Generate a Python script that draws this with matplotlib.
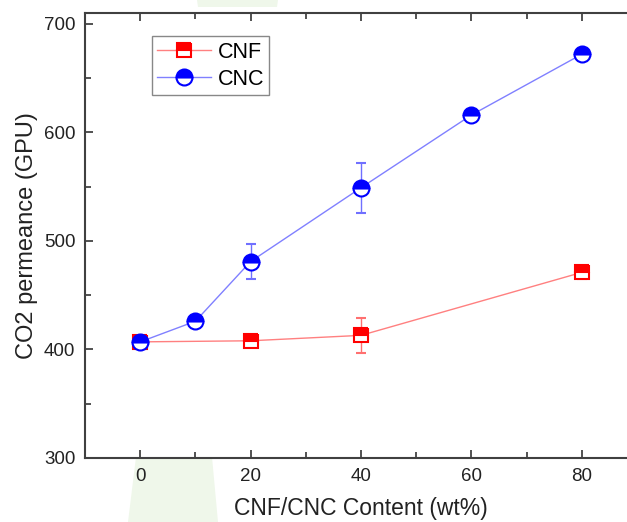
import matplotlib
matplotlib.use("Agg")
import matplotlib.pyplot as plt
from matplotlib.lines import Line2D
from matplotlib.patches import Polygon
from matplotlib.ticker import MultipleLocator

plt.rcParams["font.family"] = ["Liberation Sans", "DejaVu Sans"]

# data
cnf_x = [0, 20, 40, 80]
cnf_y = [407, 408, 413, 471]
cnf_err = [3, 3, 16, 6]

cnc_x = [0, 10, 20, 40, 60, 80]
cnc_y = [407, 426, 481, 549, 616, 672]
cnc_err = [3, 3, 16, 23, 4, 5]

fig = plt.figure(figsize=(6.27, 5.22), dpi=100)

# faint green watermark behind the plot
fig.patches.append(Polygon([(136 / 627, 1 - 457 / 522), (212 / 627, 1 - 457 / 522),
                            (218 / 627, 0), (128 / 627, 0)],
                           closed=True, transform=fig.transFigure,
                           fc="#eff7ea", ec="none", zorder=-5))
fig.patches.append(Polygon([(197 / 627, 1.0), (278 / 627, 1.0),
                            (277 / 627, 1 - 7 / 522), (198 / 627, 1 - 7 / 522)],
                           closed=True, transform=fig.transFigure,
                           fc="#eff7ea", ec="none", zorder=-5))

ax = fig.add_axes([85 / 627, 1 - 458 / 522, 552 / 627, 445 / 522])
ax.patch.set_alpha(0)

cnf_style = dict(color="#ff8080", lw=1.0, marker="s", ms=10, mec="#ff0000",
                 mfc="#ff0000", mfcalt="white", fillstyle="top", mew=1.5)
cnc_style = dict(color="#8080ff", lw=1.0, marker="o", ms=11.5, mec="#0000ff",
                 mfc="#0000ff", mfcalt="white", fillstyle="top", mew=1.5)

ax.errorbar(cnf_x, cnf_y, yerr=cnf_err, ecolor="#ff7070", elinewidth=1.0,
            capsize=3.5, capthick=1.0, zorder=3, **cnf_style)
ax.errorbar(cnc_x, cnc_y, yerr=cnc_err, ecolor="#7070ff", elinewidth=1.0,
            capsize=3.5, capthick=1.0, zorder=3, **cnc_style)

ax.set_xlim(-10, 90)
ax.set_ylim(300, 710)
ax.xaxis.set_major_locator(MultipleLocator(20))
ax.xaxis.set_minor_locator(MultipleLocator(10))
ax.yaxis.set_major_locator(MultipleLocator(100))
ax.yaxis.set_minor_locator(MultipleLocator(50))
ax.tick_params(which="both", direction="in", top=True, right=False,
               color="#333333", labelsize=13.5, labelcolor="#222222")
ax.tick_params(which="major", length=6, width=1.2, pad=7)
ax.tick_params(which="minor", length=4, width=1.2)
for s in ax.spines.values():
    s.set_color("#404040")
    s.set_linewidth(1.5)

ax.set_xlabel("CNF/CNC Content (wt%)", fontsize=16.5, color="#222222", labelpad=9)
ax.set_ylabel("CO2 permeance (GPU)", fontsize=17, color="#222222", labelpad=4)

handles = [Line2D([], [], **cnf_style), Line2D([], [], **cnc_style)]
leg = ax.legend(handles, ["CNF", "CNC"], loc="upper left",
                bbox_to_anchor=(0.121, 0.948), fontsize=15.5,
                fancybox=False, edgecolor="#888888", framealpha=1,
                handlelength=2.5, borderpad=0.25, labelspacing=0.3,
                handletextpad=0.3, borderaxespad=0)
leg.get_frame().set_linewidth(1.0)

fig.savefig("out.png", dpi=100)
